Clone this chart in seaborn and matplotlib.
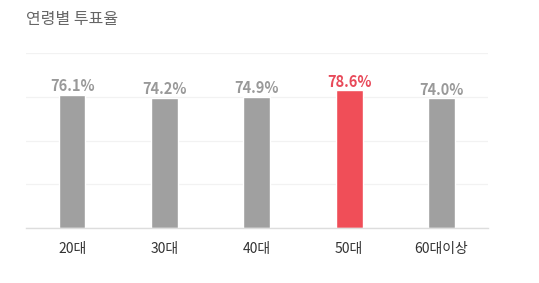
import matplotlib
matplotlib.use("Agg")
import matplotlib.pyplot as plt
import seaborn as sns
import pandas as pd

categories = ["20대", "30대", "40대", "50대", "60대이상"]
values = [76.1, 74.2, 74.9, 78.6, 74.0]
labels = ["76.1%", "74.2%", "74.9%", "78.6%", "74.0%"]
highlight = "50대"
title = "연령별 투표율"

sns.set_theme(style="white")
plt.rcParams['font.family'] = ['Noto Sans CJK KR', 'DejaVu Sans']

gray = "#a0a0a0"
red = "#f04e58"
colors = [red if c == highlight else gray for c in categories]

df = pd.DataFrame({"cat": categories, "val": values})

fig = plt.figure(figsize=(5.39, 2.83), dpi=100)
ax = fig.add_axes([0.048, 0.194, 0.857, 0.619])
sns.barplot(data=df, x="cat", y="val", hue="cat", palette=colors, legend=False,
            width=0.29, ax=ax, saturation=1)

ax.set_ylim(0, 100)
ax.set_yticks([0, 25, 50, 75, 100])
ax.yaxis.grid(True, color="#f2f2f2", linewidth=0.9)
ax.set_axisbelow(True)
ax.tick_params(axis="y", left=False, labelleft=False)
ax.tick_params(axis="x", bottom=False, labelsize=10, labelcolor="#333333", pad=4)
for s in ["top", "right", "left"]:
    ax.spines[s].set_visible(False)
ax.spines["bottom"].set_color("#dddddd")
ax.spines["bottom"].set_linewidth(1)
ax.set_xlabel("")
ax.set_ylabel("")

for i, (v, lab, c) in enumerate(zip(values, labels, categories)):
    col = "#e84a5a" if c == highlight else "#999999"
    ax.annotate(lab, (i, v), xytext=(0, 0.5), textcoords="offset points",
                ha="center", va="bottom", fontsize=10.5, fontweight="bold", color=col)

fig.text(0.048, 0.93, title, fontsize=11.5, color="#666666", ha="left", va="center")

fig.savefig("out.png", dpi=100)
